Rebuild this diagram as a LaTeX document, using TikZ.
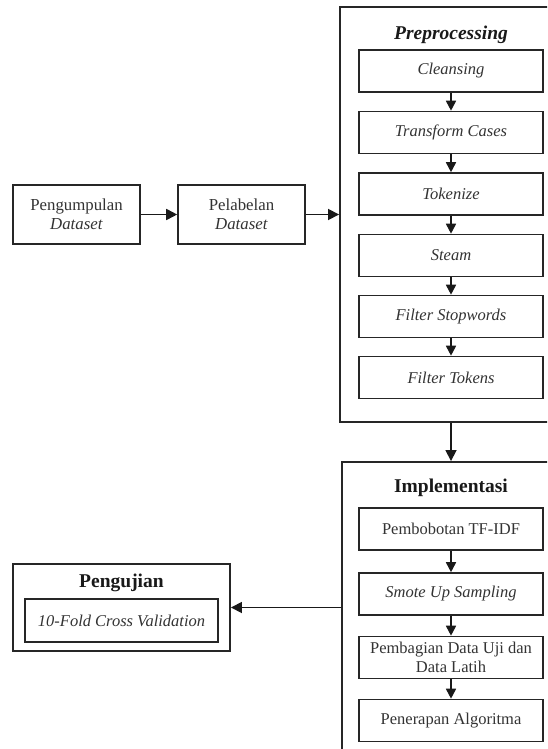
\documentclass[tikz,border=0pt]{standalone}
\usepackage{fontspec}
\setmainfont{Liberation Serif}
\usetikzlibrary{arrows.meta}
\begin{document}
\begin{tikzpicture}[x=1pt,y=-1pt,
  outer/.style={draw=black!85,line width=1.9pt,rectangle,inner sep=0pt},
  inbox/.style={draw=black!85,line width=1.6pt,rectangle,inner sep=0pt,minimum width=184pt,minimum height=42pt,align=center,text=black!80,font=\fontsize{16.5}{19}\selectfont},
  smallbox/.style={draw=black!85,line width=1.6pt,rectangle,inner sep=0pt,minimum width=127pt,minimum height=59pt,align=center,text=black!80,font=\fontsize{16.8}{19}\selectfont},
  ttl/.style={inner sep=0pt,text=black!90,font=\fontsize{19.5}{22}\selectfont\bfseries},
  arr/.style={draw=black!90,line width=1.7pt,-{Triangle[length=11pt,width=11pt]}},
  sarr/.style={draw=black!90,line width=1.7pt,-{Triangle[length=10pt,width=10pt]}}]
\useasboundingbox (0,0) rectangle (547,749);
\clip (0,0) rectangle (547,749);
\fill[white] (0,0) rectangle (547,749);
% left boxes
\node[smallbox] (pd) at (76.5,214.5) {Pengumpulan\\\textit{Dataset}};
\node[smallbox] (ld) at (241.5,214.5) {Pelabelan\\\textit{Dataset}};
% preprocessing
\node[outer,minimum width=222pt,minimum height=415pt] (pre) at (451,214.5) {};
\node[ttl] (pret) at (451,35) {\textit{Preprocessing}};
\node[inbox] (c1) at (451,71) {\textit{Cleansing}};
\node[inbox] (c2) at (451,132.5) {\textit{Transform Cases}};
\node[inbox] (c3) at (451,194) {\textit{Tokenize}};
\node[inbox] (c4) at (451,255.5) {\textit{Steam}};
\node[inbox] (c5) at (451,316.5) {\textit{Filter Stopwords}};
\node[inbox] (c6) at (451,377.5) {\textit{Filter Tokens}};
% implementasi
\node[outer,minimum width=220pt,minimum height=298pt] (imp) at (452,611) {};
\node[ttl] (impt) at (451,488) {Implementasi};
\node[inbox] (i1) at (451,529) {Pembobotan TF-IDF};
\node[inbox] (i2) at (451,594) {\textit{Smote Up Sampling}};
\node[inbox] (i3) at (451,657.5) {Pembagian Data Uji dan\\Data Latih};
\node[inbox] (i4) at (451,720.5) {Penerapan Algoritma};
% pengujian
\node[outer,minimum width=217pt,minimum height=87pt] (pgj) at (121.5,607.5) {};
\node[ttl] (pgjt) at (121.5,583) {Pengujian};
\node[inbox,minimum width=193pt,minimum height=43pt] (cv) at (121.5,620.5) {\textit{10-Fold Cross Validation}};
% arrows
\draw[arr] (pd.east) -- (ld.west);
\draw[arr] (ld.east) -- (pre.west |- ld.east);
\draw[sarr] (c1) -- (c2);
\draw[sarr] (c2) -- (c3);
\draw[sarr] (c3) -- (c4);
\draw[sarr] (c4) -- (c5);
\draw[sarr] (c5) -- (c6);
\draw[arr] (pre.south) -- (pre.south |- imp.north);
\draw[sarr] (i1) -- (i2);
\draw[sarr] (i2) -- (i3);
\draw[sarr] (i3) -- (i4);
\draw[arr] (imp.west |- pgj.east) -- (pgj.east);
\end{tikzpicture}
\end{document}
